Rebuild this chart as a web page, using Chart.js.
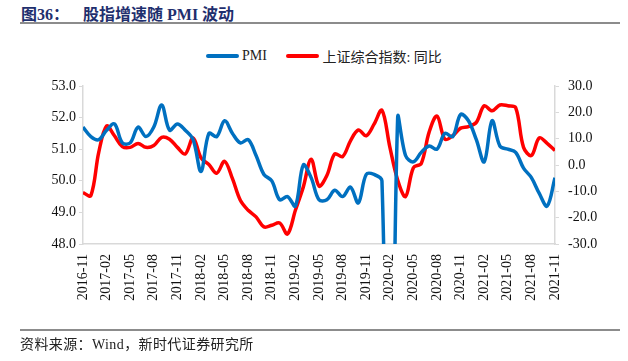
<!DOCTYPE html>
<html>
<head>
<meta charset="utf-8">
<script src="https://cdn.jsdelivr.net/npm/chart.js@4/dist/chart.umd.min.js"></script>
<style>
  html, body { margin: 0; padding: 0; background: #fff; }
  #wrap { position: relative; width: 628px; height: 361px; overflow: hidden; }
  .title { position: absolute; left: 21px; top: 1px; font: bold 16px "Liberation Serif", "Noto Sans CJK SC", serif; color: #1f2f6e; white-space: nowrap; }
  .title .t2 { margin-left: 14px; }
  .rule { position: absolute; left: 20px; width: 600px; height: 2px; background: #8c8c8c; }
  .legend { position: absolute; top: 46px; left: 206px; font: 14px "Liberation Serif", "Noto Sans CJK SC", serif; color: #222; white-space: nowrap; }
  .legend span { display: inline-block; vertical-align: middle; }
  .legend .sw { width: 33px; height: 4px; border-radius: 2px; margin-right: 3px; }
  .src { position: absolute; left: 20px; top: 333px; font: 14px "Liberation Serif", "Noto Sans CJK SC", serif; letter-spacing: 0.4px; color: #222; white-space: nowrap; }
  #c { position: absolute; left: 0; top: 0; }
</style>
</head>
<body>
<div id="wrap">
  <div class="title">图36：<span class="t2">股指增速随 PMI 波动</span></div>
  <div class="rule" style="top:22px"></div>
  <div class="legend">
    <span class="sw" style="background:#0070c0"></span><span>PMI</span>
    <span class="sw" style="background:#ff0000;margin-left:16px"></span><span>上证综合指数: 同比</span>
  </div>
  <canvas id="c" width="628" height="330"></canvas>
  <div class="rule" style="top:329px"></div>
  <div class="src">资料来源：Wind，新时代证券研究所</div>
</div>
<script>
const months = [
  "2016-11","2016-12",
  "2017-01","2017-02","2017-03","2017-04","2017-05","2017-06","2017-07","2017-08","2017-09","2017-10","2017-11","2017-12",
  "2018-01","2018-02","2018-03","2018-04","2018-05","2018-06","2018-07","2018-08","2018-09","2018-10","2018-11","2018-12",
  "2019-01","2019-02","2019-03","2019-04","2019-05","2019-06","2019-07","2019-08","2019-09","2019-10","2019-11","2019-12",
  "2020-01","2020-02","2020-03","2020-04","2020-05","2020-06","2020-07","2020-08","2020-09","2020-10","2020-11","2020-12",
  "2021-01","2021-02","2021-03","2021-04","2021-05","2021-06","2021-07","2021-08","2021-09","2021-10","2021-11"
];

// 制造业 PMI (左轴)
const pmi = [
  51.7, 51.4,
  51.3, 51.6, 51.8, 51.2, 51.2, 51.7, 51.4, 51.7, 52.4, 51.6, 51.8, 51.6,
  51.3, 50.3, 51.5, 51.4, 51.9, 51.5, 51.2, 51.3, 50.8, 50.2, 50.0, 49.4,
  49.5, 49.2, 50.5, 50.1, 49.4, 49.4, 49.7, 49.5, 49.8, 49.3, 50.2, 50.2,
  50.0, 35.7, 52.0, 50.8, 50.6, 50.9, 51.1, 51.0, 51.5, 51.4, 52.1, 51.9,
  51.3, 50.6, 51.9, 51.1, 51.0, 50.9, 50.4, 50.1, 49.6, 49.2, 50.1
];

// 上证综合指数同比 % (右轴)
const shYoy = [
  -10.5, -11.6,
  4.8, 14.8, 11.1, 7.0, 6.7, 8.2, 6.7, 7.4, 10.5, 9.8, 6.7, 4.2,
  10.3, 2.7, 0.2, -3.1, 1.4, -5.2, -13.4, -17.2, -19.7, -23.5, -22.9, -22.0,
  -26.2, -17.2, -8.4, 2.2, -8.0, -4.0, 4.2, 3.2, 9.2, 13.3, 11.1, 15.5,
  20.8, 6.9, -5.7, -12.0, -1.0, 0.6, 12.5, 18.6, 9.8, 11.1, 14.0, 14.6,
  16.2, 22.5, 20.6, 22.8, 22.5, 21.8, 6.7, 3.6, 10.3, 8.2, 5.5
];

const leftTicks = [48, 53, 0.5];
const rightTicks = [-30, 30, 10];

const axisGray = "#d9d9d9";
const tickFont = { family: "'Liberation Serif', 'Times New Roman', serif", size: 14 };

new Chart(document.getElementById("c"), {
  type: "line",
  data: {
    labels: months,
    datasets: [
      { label: "PMI", data: pmi, yAxisID: "y", borderColor: "#0070c0", borderWidth: 3.5, pointRadius: 0, tension: 0.35, clip: 0 },
      { label: "上证综合指数: 同比", data: shYoy, yAxisID: "y1", borderColor: "#ff0000", borderWidth: 3.5, pointRadius: 0, tension: 0.35, clip: 0 },
    ],
  },
  options: {
    responsive: false, animation: false,
    layout: { padding: { top: 86, left: 0, right: 0, bottom: 0 } },
    plugins: { legend: { display: false }, tooltip: { enabled: false } },
    scales: {
      x: {
        offset: false,
        grid: { display: true, drawOnChartArea: false, drawTicks: false, color: axisGray },
        border: { color: axisGray, width: 1.5 },
        ticks: {
          autoSkip: false, maxRotation: 90, minRotation: 90, padding: 10, color: "#111", font: tickFont,
          callback: (v, i) => (i % 3 === 0 ? months[i] : ""),
        },
        afterFit: (s) => { s.height = 86; },
      },
      y: {
        position: "left", min: leftTicks[0], max: leftTicks[1],
        grid: { drawOnChartArea: false, color: axisGray, tickLength: 4 },
        border: { color: axisGray, width: 1.5 },
        ticks: { stepSize: leftTicks[2], padding: 3, color: "#111", font: tickFont, callback: (v) => v.toFixed(1) },
        afterFit: (s) => { s.width = 83; },
      },
      y1: {
        position: "right", min: rightTicks[0], max: rightTicks[1],
        grid: { drawOnChartArea: false, color: axisGray, tickLength: 4 },
        border: { color: axisGray, width: 1.5 },
        ticks: { stepSize: rightTicks[2], padding: 9, color: "#111", font: tickFont, callback: (v) => v.toFixed(1) },
        afterFit: (s) => { s.width = 73; },
      },
    },
  },
});
</script>
</body>
</html>
